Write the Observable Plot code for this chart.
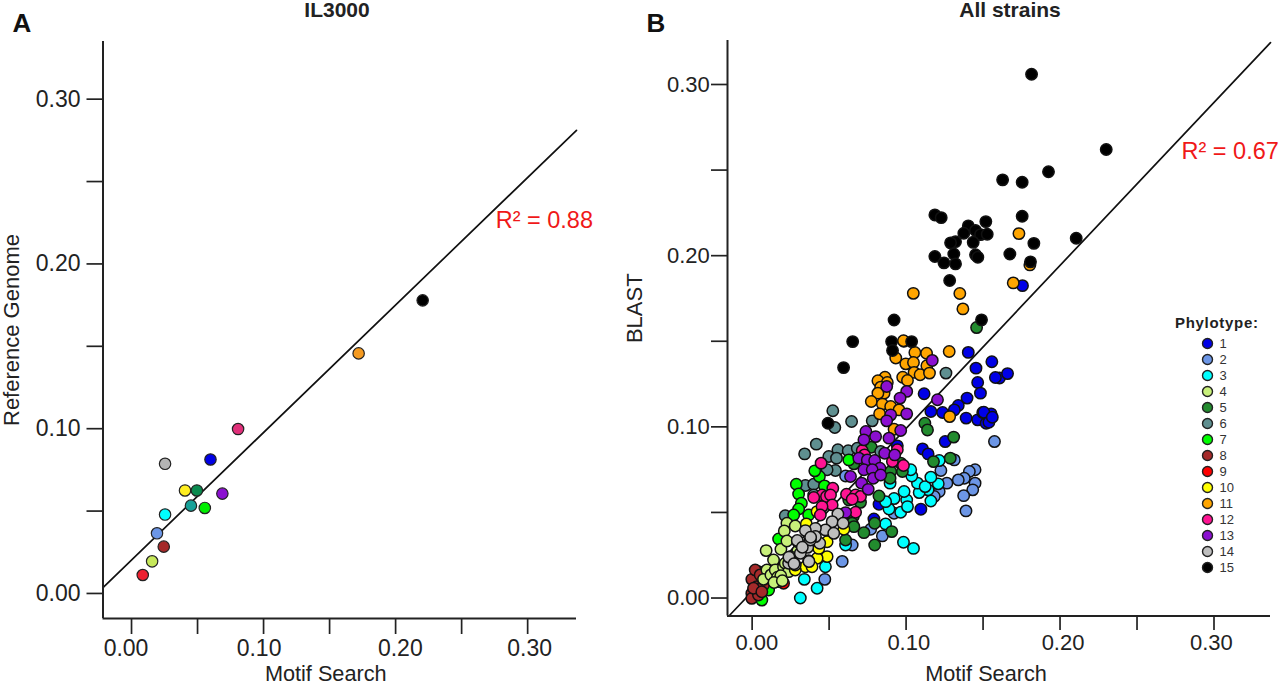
<!DOCTYPE html>
<html><head><meta charset="utf-8">
<script src="https://cdn.jsdelivr.net/npm/d3@7"></script>
<script src="https://cdn.jsdelivr.net/npm/@observablehq/plot@0.6"></script>
<style>
html,body{margin:0;padding:0;background:#fff;overflow:hidden}
#stage{position:relative;width:1280px;height:685px;font-family:"Liberation Sans",Arial,sans-serif;color:#222}
#stage>div{position:absolute}
svg{display:block;max-width:none}
.ttl{font-weight:700;font-size:21px;color:#222;transform:translateX(-50%);white-space:nowrap}
.let{font-weight:700;font-size:26px;color:#111}
</style></head><body><div id="stage"></div>
<script>
const phylotypes=[1,2,3,4,5,6,7,8,9,10,11,12,13,14,15];
const phyloColors=["#0000e6","#6c96e6","#00ffff","#c8f07a","#228b2e","#5f8f90","#00ff00","#a52a2a","#ff0000","#ffff00","#ffa500","#ff1493","#8b10d0","#bebebe","#000000"];
const drawOrder=[1,2,3,5,6,7,8,9,4,10,11,12,13,14,15];

// Panel A: IL3000
const ilPhylotype=[9,4,8,2,3,6,7,10,5,13,14,1,12,11,15];
const ilMotif=[.0085,.0156,.0244,.0193,.0254,.045,.0555,.0405,.0495,.0688,.0254,.0598,.0807,.172,.2205];
const ilReference=[.0112,.0195,.0284,.0365,.0479,.0533,.0519,.0625,.0625,.0606,.0787,.0813,.0998,.1457,.1779];
const ilColors=["#ee2030","#c6e85a","#a52a2a","#6c96e6","#00ffff","#17a199","#00ee00","#ffee20","#0a8a4f","#8b10d0","#b4b4b4","#0000e6","#e0307a","#f59a20","#000000"];
const fitAx=[-.0216,.337], fitAy=[.0036,.2811];

// Panel B: all strains, [Motif Search, BLAST]
const phylo1=[[.1404,.1435],[.1557,.138],[.1454,.1343],[.1607,.1285],[.1465,.1259],[.1483,.1197],[.1117,.1193],[.1396,.1168],[.1339,.1125],[.1161,.109],[.1237,.1084],[.1313,.1099],[.139,.1051],[.1465,.1041],[.1498,.1084],[.1552,.1076],[.152,.1021],[.1541,.1051],[.1254,.0914],[.1107,.0871],[.1143,.0842],[.1096,.0519],[.0791,.0462],[.0824,.0548],[.0943,.0889],[.1659,.1311],[.158,.1288],[.1756,.1825],[.1505,.1085],[.1538,.1027],[.156,.1056]];
const phylo2=[[.1574,.0914],[.1226,.0745],[.1313,.0807],[.1448,.0749],[.1411,.0739],[.1378,.07],[.1339,.069],[.1448,.0671],[.1433,.0632],[.1374,.0598],[.1389,.0509],[.1265,.0671],[.1215,.0622],[.1183,.0593],[.0846,.0363],[.077,.0402],[.065,.031],[.0585,.0214],[.0472,.0109],[.0607,.0713],[.0922,.0495]];
const phylo3=[[.0313,0],[.0422,.0057],[.0339,.0109],[.0476,.0183],[.0607,.031],[.0983,.0326],[.1048,.029],[.0867,.0433],[.0965,.0501],[.0889,.052],[.0922,.0581],[.0867,.0563],[.1004,.0573],[.0987,.0622],[.1009,.0534],[.1161,.0567],[.1143,.0632],[.1085,.0616],[.1074,.0671],[.1124,.0651],[.1209,.0667],[.1161,.0706],[.1037,.0713],[.103,.0749],[.0896,.0671],[.1215,.0803]];
const phylo4=[[.0091,.0277],[.0187,.0285],[.0296,.0275],[.0139,.0222],[.0096,.0164],[.0226,.0437],[.028,.0421],[.0209,.0392],[.0226,.0333],[.0074,.0109],[.0122,.0135],[.015,.0164],[.0204,.0183],[.0172,.0096],[.0215,.0203],[.0237,.0154],[.0165,.0121],[.0186,.013],[.0142,.0091],[.0196,.0101]];
const phylo5=[[.1122,.1021],[.1139,.0982],[.1309,.094],[.1287,.0817],[.1178,.0797],[.0774,.0881],[.0965,.0788],[.0976,.0739],[.09,.0739],[.0896,.07],[.0824,.0596],[.0704,.0559],[.0628,.0573],[.0657,.0476],[.065,.0437],[.0661,.0417],[.0726,.0382],[.0796,.0437],[.0907,.0388],[.0796,.031],[.0607,.0339],[.0661,.0784],[.1458,.158]];
const phylo6=[[.1259,.1314],[.0524,.1094],[.0646,.1031],[.0537,.0996],[.078,.1035],[.0417,.0899],[.0341,.0842],[.0557,.0866],[.0624,.086],[.0498,.0827],[.0548,.0817],[.0541,.0745],[.0487,.0749],[.0346,.0657],[.04,.0665],[.0215,.0481],[.04,.0602],[.0683,.0875],[.0835,.0856]];
const phylo7=[[.0287,.0665],[.0302,.0608],[.0437,.071],[.0407,.0743],[.0628,.0807],[.032,.0554],[.0302,.052],[.0367,.0485],[.027,.0485],[.047,.0655],[.0172,.0345],[.0063,-.0012],[.0107,.0047]];
const phylo8=[[.0041,.0154],[-.0002,.0109],[.0085,.0154],[.002,.0164],[.003,.0066],[-.0002,.0027],[-.0002,-.0002],[.0041,.0018],[.0074,.0076],[.0052,.0135],[.0009,.0057],[.0063,.0037]];
const phylo9=[[.0204,.0086],[.0172,.0164],[.0117,.0115]];
const phylo10=[[.0352,.0433],[.0487,.0242],[.0422,.0232],[.0346,.0183],[.028,.0164],[.0487,.0329],[.0433,.029],[.0596,.0402],[.04,.0339],[.0422,.0505],[.0389,.0183]];
const phylo11=[[.1733,.2129],[.1696,.1841],[.1804,.1946],[.1047,.178],[.1349,.1779],[.1369,.1689],[.128,.144],[.0986,.15],[.1057,.1434],[.1133,.143],[.0983,.1503],[.0933,.1402],[.0998,.1368],[.1048,.1376],[.1135,.1357],[.1052,.1318],[.1091,.1304],[.1152,.1314],[.0978,.129],[.1009,.1271],[.0863,.129],[.0817,.1269],[.0878,.1259],[.0835,.1232],[.0857,.1197],[.0817,.1197],[.0774,.1148],[.0846,.1133],[.09,.1119],[.0954,.1099],[.0828,.1076],[.1283,.106],[.0922,.0986]];
const phylo12=[[.0448,.0788],[.0715,.0862],[.0524,.0641],[.0454,.0602],[.0483,.0593],[.04,.0587],[.0509,.0602],[.0613,.0606],[.0672,.0602],[.0704,.0593],[.065,.0577],[.052,.0544],[.0454,.0534],[.0443,.0485],[.0672,.0501],[.0943,.0866],[.0911,.0797],[.0983,.0774],[.073,.0836]];
const phylo13=[[.117,.1388],[.0874,.1236],[.1004,.1207],[.0961,.1168],[.1204,.1158],[.09,.107],[.1004,.1076],[.0874,.1035],[.0965,.0979],[.0889,.0934],[.0739,.0973],[.0802,.0943],[.0726,.0924],[.0861,.0846],[.0926,.0836],[.0693,.0817],[.0748,.0807],[.0796,.0803],[.083,.0758],[.0726,.0749],[.078,.0749],[.0639,.071],[.0787,.07],[.0711,.0671],[.0754,.0635],[.0835,.0719],[.0607,.0499]];
const phylo14=[[.0557,.0491],[.052,.0446],[.0591,.0437],[.0476,.0398],[.0411,.0407],[.0346,.0394],[.053,.0378],[.0439,.032],[.0361,.0296],[.0296,.0329],[.0367,.0218],[.028,.0193],[.0248,.0242],[.0313,.0261],[.0237,.0203],[.0411,.0359],[.0378,.0339],[.0293,.0336],[.038,.0355],[.0326,.0297],[.0239,.0239],[.0272,.02],[.0369,.0213]];
const phylo15=[[.1815,.306],[.23,.262],[.1925,.249],[.1627,.2443],[.1754,.2429],[.1187,.2238],[.1228,.2222],[.1754,.223],[.1518,.2199],[.1404,.2174],[.1375,.2131],[.1451,.2147],[.1484,.2123],[.1527,.2125],[.1436,.2078],[.1321,.2082],[.1289,.2075],[.183,.2072],[.2105,.2102],[.131,.201],[.1451,.2005],[.1466,.1991],[.1674,.201],[.1187,.1995],[.1246,.1958],[.1321,.1952],[.1808,.1964],[.1283,.1855],[.149,.1625],[.1036,.1498],[.0922,.1624],[.0906,.1498],[.0912,.1446],[.0653,.1498],[.0594,.1346],[.0493,.1021]];
const fitBx=[-.01505,.3367], fitBy=[-.0105,.3245];

const tickValues=[0,.05,.10,.15,.20,.25,.30];
const labelValues=[0,.10,.20,.30];
const fmt=d=>d.toFixed(2);

const stage=document.getElementById("stage");
function place(node,left,top){const d=document.createElement("div");d.style.left=left+"px";d.style.top=top+"px";d.append(node);stage.append(d);return d;}
function note(cls,text,left,top){const d=document.createElement("div");d.className=cls;d.textContent=text;d.style.left=left+"px";d.style.top=top+"px";stage.append(d);}

function panel({width,marginLeft,marginRight,marginTop,marginBottom,xDomain,yDomain,dotsData,fitX,fitY,r2,r2x,r2y,xLabel,yLabel,xLabelDx,xLabelDy,yLabelDy,yLabelX,tickFont,xTick,yTick,xPad,yPad,xShift,dotMark}){
  return Plot.plot({
    width,height:685,marginLeft,marginRight,marginTop,marginBottom,
    style:{background:"transparent",fontFamily:'"Liberation Sans",Arial,sans-serif',color:"#222"},
    x:{domain:xDomain},y:{domain:yDomain},
    marks:[
      Plot.line(fitX.map((x,i)=>[x,fitY[i]]),{x:"0",y:"1",stroke:"#111",strokeWidth:1.7}),
      dotMark(dotsData),
      Plot.ruleX([xDomain[0]],{stroke:"#222",strokeWidth:2}),
      Plot.ruleY([yDomain[0]],{stroke:"#222",strokeWidth:2}),
      Plot.axisX({ticks:tickValues,tickFormat:()=>"",tickSize:xTick,label:null,strokeWidth:1.7}),
      ...labelValues.map((v,i)=>Plot.axisX({ticks:[v],tickFormat:fmt,tickSize:0,tickPadding:xTick+xPad,fontSize:tickFont,label:null,dx:xShift[i],strokeOpacity:0})),
      Plot.axisY({ticks:tickValues,tickFormat:d=>labelValues.includes(d)?fmt(d):"",tickSize:yTick,tickPadding:yPad,fontSize:tickFont,label:null,strokeWidth:1.7}),
      Plot.text([r2],{x:r2x,y:r2y,fill:"#f01818",fontSize:23.5,textAnchor:"start"}),
      Plot.text([xLabel],{frameAnchor:"bottom",dx:xLabelDx,dy:xLabelDy,fontSize:21.7,fill:"#222"}),
      Plot.text([yLabel],{frameAnchor:"left",textAnchor:"middle",rotate:-90,dx:yLabelX,dy:yLabelDy,fontSize:22,fill:"#222"})
    ]
  });
}

const dotsA=ilMotif.map((x,i)=>({x,y:ilReference[i],c:ilColors[i],p:ilPhylotype[i]}));
place(panel({width:640,marginLeft:102.5,marginRight:64,marginTop:41,marginBottom:67,
  xDomain:[-.0216,.337],yDomain:[-.0152,.335],dotsData:dotsA,fitX:fitAx,fitY:fitAy,
  r2:"R² = 0.88",r2x:.2758,r2y:.2265,xLabel:"Motif Search",yLabel:"Reference Genome",
  xLabelDx:-14,xLabelDy:62,yLabelDy:0,yLabelX:-91,tickFont:23,xTick:16,yTick:16,xPad:5,yPad:6.5,xShift:[-5.5,-4.5,4.7,2],
  dotMark:d=>Plot.dot(d,{x:"x",y:"y",fill:"c",r:5.7,stroke:"#222",strokeWidth:1.2})
}),0,0);

const phyloSets={1:phylo1,2:phylo2,3:phylo3,4:phylo4,5:phylo5,6:phylo6,7:phylo7,8:phylo8,9:phylo9,10:phylo10,11:phylo11,12:phylo12,13:phylo13,14:phylo14,15:phylo15};
const dotsB=drawOrder.flatMap(p=>phyloSets[p].map(([x,y])=>({x,y,c:phyloColors[p-1]})));
place(panel({width:680,marginLeft:127,marginRight:10,marginTop:40,marginBottom:69.5,
  xDomain:[-.016,.3367],yDomain:[-.0105,.3257],dotsData:dotsB,fitX:fitBx,fitY:fitBy,
  r2:"R² = 0.67",r2x:.2789,r2y:.2608,xLabel:"Motif Search",yLabel:"BLAST",
  xLabelDx:-13,xLabelDy:64.5,yLabelDy:-20,yLabelX:-93,tickFont:22,xTick:14.5,yTick:16,xPad:4,yPad:1.7,xShift:[4.7,2.7,3,-2.7],
  dotMark:d=>Plot.dot(d,{x:"x",y:"y",fill:"c",r:5.7,stroke:"#111",strokeWidth:1.5})
}),600,0);

// Legend
const legend=Plot.plot({
  width:110,height:250,margin:0,
  style:{background:"transparent",fontFamily:'"Liberation Sans",Arial,sans-serif'},
  x:{axis:null,domain:[0,110],range:[0,110]},
  y:{axis:null,type:"point",domain:phylotypes,range:[13,237],padding:0},
  marks:[
    Plot.dot(phylotypes,{y:d=>d,frameAnchor:"left",dx:37,fill:d=>phyloColors[d-1],r:5,stroke:"#222",strokeWidth:1.4}),
    Plot.text(phylotypes,{y:d=>d,frameAnchor:"left",dx:49,text:d=>String(d),fontSize:13,fill:"#333",textAnchor:"start"})
  ]
});
place(legend,1170,330);
const lt=document.createElement("div");lt.textContent="Phylotype:";lt.style.cssText="left:1175px;top:313.7px;font-weight:700;font-size:15px;letter-spacing:.7px;color:#222;white-space:nowrap";stage.append(lt);

note("ttl","IL3000",337,-1.7);
note("ttl","All strains",1010,-1.7);
note("let","A",12.5,7.5);
note("let","B",646.5,7.5);
</script></body></html>
